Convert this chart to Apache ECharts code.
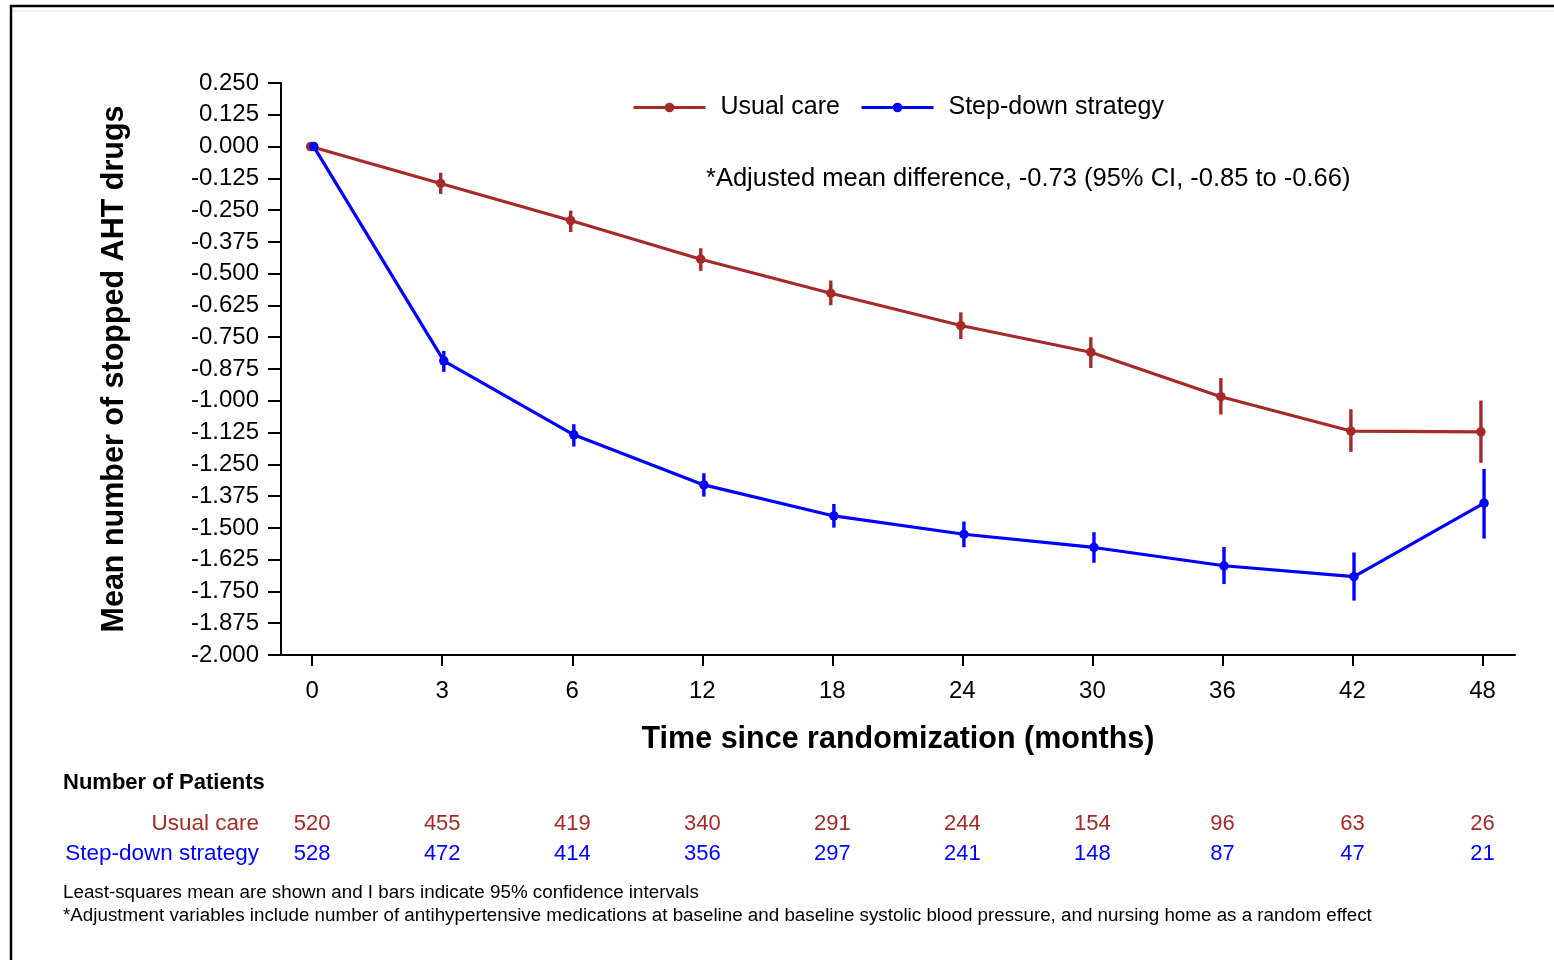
<!DOCTYPE html>
<html>
<head>
<meta charset="utf-8">
<script src="https://cdn.jsdelivr.net/npm/echarts@6/dist/echarts.min.js"></script>
<style>
  html, body { margin: 0; padding: 0; background: #fff; }
  #chart { width: 1554px; height: 960px; }
</style>
</head>
<body>
<div id="chart"></div>
<script>
// ---- data ----
const months = ['0', '3', '6', '12', '18', '24', '30', '36', '42', '48'];

const usualMean = [0, -0.145, -0.291, -0.443, -0.577, -0.704, -0.809, -0.984, -1.119, -1.122];
const usualLow  = [0, -0.186, -0.336, -0.489, -0.624, -0.757, -0.871, -1.054, -1.201, -1.244];
const usualHigh = [0, -0.103, -0.252, -0.400, -0.527, -0.652, -0.750, -0.911, -1.033, -0.999];

const stepMean = [0, -0.843, -1.134, -1.331, -1.453, -1.525, -1.577, -1.649, -1.692, -1.403];
const stepLow  = [0, -0.886, -1.180, -1.377, -1.499, -1.576, -1.637, -1.721, -1.786, -1.542];
const stepHigh = [0, -0.804, -1.092, -1.285, -1.406, -1.475, -1.517, -1.575, -1.597, -1.268];

const usualN = [520, 455, 419, 340, 291, 244, 154, 96, 63, 26];
const stepN  = [528, 472, 414, 356, 297, 241, 148, 87, 47, 21];

const RED = '#A52A2A';
const BLUE = '#0000FF';
const FONT = '"Liberation Sans", Arial, sans-serif';
const DODGE = 0.012;   // small horizontal offset between the two groups
const idx = months.map((m, i) => i);

// build series data
const usualLine = usualMean.map((v, i) => [i - DODGE, v]);
const stepLine = stepMean.map((v, i) => [i + DODGE, v]);
const usualErr = usualMean.map((v, i) => [i - DODGE, usualLow[i], usualHigh[i]]).slice(1);
const stepErr = stepMean.map((v, i) => [i + DODGE, stepLow[i], stepHigh[i]]).slice(1);

function errorBar(color) {
    return function (params, api) {
        const x = api.value(0);
        const p1 = api.coord([x, api.value(2)]);
        const p2 = api.coord([x, api.value(1)]);
        return {
            type: 'line',
            shape: { x1: p1[0], y1: p1[1], x2: p2[0], y2: p2[1] },
            style: { stroke: color, lineWidth: 3.4 }
        };
    };
}

// hidden axis used as a row of the "number of patients" table
function countAxis(counts, color, margin) {
    return {
        type: 'value', min: -0.24, max: 9.25, position: 'bottom',
        axisLine: { show: false, onZero: false }, axisTick: { show: false }, splitLine: { show: false },
        axisLabel: {
            customValues: idx, margin: margin, fontSize: 22, fontFamily: FONT, color: color,
            formatter: v => counts[Math.round(v)]
        }
    };
}

const chart = echarts.init(document.getElementById('chart'));

chart.setOption({
    animation: false,
    backgroundColor: '#fff',
    grid: { left: 281, top: 83, right: 39, bottom: 305, containLabel: false },
    legend: {
        left: 627, top: 90,
        itemWidth: 72, itemHeight: 12, itemGap: 20,
        lineStyle: { width: 3 },
        textStyle: { fontSize: 25, fontFamily: FONT, color: '#000', padding: [0, 0, 0, 10] },
        data: ['Usual care', 'Step-down strategy']
    },
    xAxis: [
        {
            type: 'value', min: -0.24, max: 9.25,
            name: 'Time since randomization (months)',
            nameLocation: 'middle', nameGap: 69,
            nameTextStyle: { fontSize: 30.5, fontWeight: 'bold', fontFamily: FONT, color: '#000' },
            axisLine: { onZero: false, lineStyle: { color: '#000', width: 2 } },
            axisTick: { customValues: idx, length: 11, lineStyle: { color: '#000', width: 2 } },
            axisLabel: {
                customValues: idx, margin: 24, fontSize: 24, fontFamily: FONT, color: '#000',
                formatter: v => months[Math.round(v)]
            },
            splitLine: { show: false }
        },
        countAxis(usualN, RED, 158),
        countAxis(stepN, BLUE, 188)
    ],
    yAxis: {
        type: 'value', min: -2, max: 0.25, interval: 0.125,
        name: 'Mean number of stopped AHT drugs',
        nameLocation: 'middle', nameGap: 151,
        nameTextStyle: { fontSize: 30.5, fontWeight: 'bold', fontFamily: FONT, color: '#000' },
        axisLine: { show: true, onZero: false, lineStyle: { color: '#000', width: 2 } },
        axisTick: { show: true, length: 13, lineStyle: { color: '#000', width: 2 } },
        axisLabel: {
            margin: 22, fontSize: 24, fontFamily: FONT, color: '#000',
            formatter: v => v.toFixed(3)
        },
        splitLine: { show: false }
    },
    series: [
        {
            name: 'Usual care', type: 'line', data: usualLine,
            symbol: 'circle', symbolSize: 9.5,
            itemStyle: { color: RED }, lineStyle: { color: RED, width: 3.2 }
        },
        {
            type: 'custom', data: usualErr, renderItem: errorBar(RED),
            encode: { x: 0, y: [1, 2] }, silent: true
        },
        {
            name: 'Step-down strategy', type: 'line', data: stepLine,
            symbol: 'circle', symbolSize: 9.5,
            itemStyle: { color: BLUE }, lineStyle: { color: BLUE, width: 3.2 }
        },
        {
            type: 'custom', data: stepErr, renderItem: errorBar(BLUE),
            encode: { x: 0, y: [1, 2] }, silent: true
        }
    ],
    graphic: [
        {
            type: 'rect', shape: { x: 11, y: 6, width: 1700, height: 1100 },
            style: { fill: 'none', stroke: '#000', lineWidth: 2.5 }, silent: true
        },
        {
            type: 'line', shape: { x1: 13, y1: 11, x2: 1554, y2: 11 },
            style: { stroke: '#e0e0e0', lineWidth: 1 }, silent: true
        },
        {
            type: 'text', left: 706, top: 166,
            style: { text: '*Adjusted mean difference, -0.73 (95% CI, -0.85 to -0.66)', fontSize: 25.5, fontFamily: FONT, fill: '#000' }
        },
        {
            type: 'text', left: 63, top: 772,
            style: { text: 'Number of Patients', fontSize: 22, fontWeight: 'bold', fontFamily: FONT, fill: '#000' }
        },
        {
            type: 'text', x: 259, y: 824,
            style: { text: 'Usual care', fontSize: 22.5, fontFamily: FONT, fill: RED, align: 'right', verticalAlign: 'middle' }
        },
        {
            type: 'text', x: 259, y: 854,
            style: { text: 'Step-down strategy', fontSize: 22.5, fontFamily: FONT, fill: BLUE, align: 'right', verticalAlign: 'middle' }
        },
        {
            type: 'text', left: 63, top: 883,
            style: { text: 'Least-squares mean are shown and I bars indicate 95% confidence intervals', fontSize: 18.8, fontFamily: FONT, fill: '#000' }
        },
        {
            type: 'text', left: 63, top: 906,
            style: { text: '*Adjustment variables include number of antihypertensive medications at baseline and baseline systolic blood pressure, and nursing home as a random effect', fontSize: 18.8, fontFamily: FONT, fill: '#000' }
        }
    ]
});
</script>
</body>
</html>
